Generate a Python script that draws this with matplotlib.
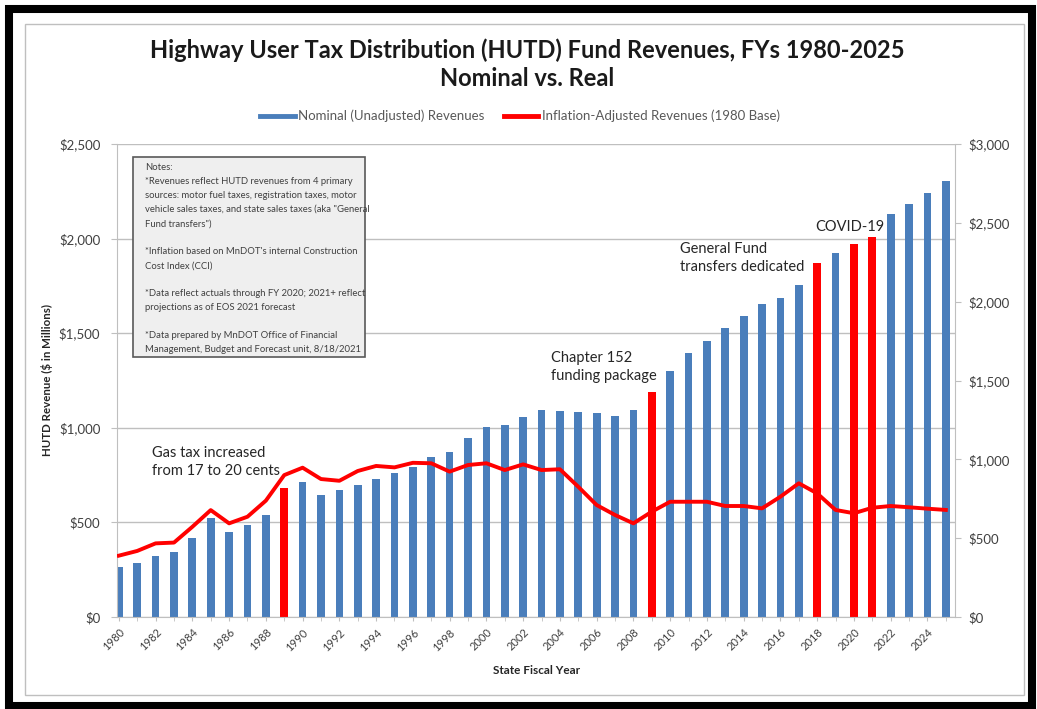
import matplotlib.pyplot as plt
from matplotlib.lines import Line2D
from matplotlib.patches import Rectangle
from matplotlib.ticker import FuncFormatter, MultipleLocator

plt.rcParams['font.family'] = ['Lato', 'DejaVu Sans']

# ---- data ----
years = list(range(1980, 2026))
nominal = [265, 287, 324, 342, 419, 525, 451, 486, 539, 680,
           715, 645, 669, 696, 728, 759, 794, 847, 874, 944,
           1006, 1015, 1055, 1092, 1089, 1082, 1078, 1061, 1092, 1191,
           1302, 1394, 1460, 1526, 1591, 1654, 1684, 1755, 1873, 1922,
           1971, 2010, 2128, 2183, 2243, 2306]
# inflation-adjusted series, read against the right-hand axis
real = [389, 419, 467, 472, 572, 678, 594, 636, 738, 900,
        947, 875, 864, 926, 958, 949, 978, 975, 922, 964,
        975, 932, 968, 932, 937, 826, 710, 647, 594, 668,
        731, 731, 731, 704, 704, 689, 763, 848, 784, 679,
        658, 693, 704, 696, 687, 679]
highlight_years = [1989, 2009, 2018, 2020, 2021]
tick_years = list(range(1980, 2026, 2))

notes = ("Notes:\n"
         "*Revenues reflect HUTD revenues from 4 primary\n"
         "sources: motor fuel taxes, registration taxes, motor\n"
         "vehicle sales taxes, and state sales taxes (aka \"General\n"
         "Fund transfers\")\n"
         "\n"
         "*Inflation based on MnDOT's internal Construction\n"
         "Cost Index (CCI)\n"
         "\n"
         "*Data reflect actuals through FY 2020; 2021+ reflect\n"
         "projections as of EOS 2021 forecast\n"
         "\n"
         "*Data prepared by MnDOT Office of Financial\n"
         "Management, Budget and Forecast unit, 8/18/2021")

BLUE = "#4a7ebb"
RED = "#ff0000"
GRID = "#bfbfbf"
TXT = "#404040"

W, H = 1037, 709
fig = plt.figure(figsize=(W / 100, H / 100), dpi=100)

# outer frames
fig.patches.append(Rectangle((25 / W, 1 - 695 / H), 999 / W, 671 / H, transform=fig.transFigure,
                             fill=False, edgecolor=GRID, lw=1))
fig.patches.append(Rectangle((9 / W, 1 - 706 / H), 1023 / W, 697 / H, transform=fig.transFigure,
                             fill=False, edgecolor="black", lw=5.8))

ax = fig.add_axes([117 / W, 1 - 617 / H, 838 / W, 473 / H])
colors = [RED if y in highlight_years else BLUE for y in years]
ax.bar(years, nominal, width=0.42, color=colors, zorder=2)
ax.set_xlim(1979.9, 2025.5)
ax.set_ylim(0, 2500)
ax.yaxis.set_major_locator(MultipleLocator(500))
ax.yaxis.set_major_formatter(FuncFormatter(lambda v, p: f"${v:,.0f}"))
ax.grid(axis="y", color=GRID, lw=1, zorder=0)
ax.set_xticks(tick_years)
ax.set_xticks(years, minor=True)
ax.set_xticklabels([str(y) for y in tick_years], rotation=45, ha="right",
                   rotation_mode="anchor", fontsize=8, color=TXT)
ax.tick_params(axis="x", which="both", length=3, color=GRID, pad=4)
ax.tick_params(axis="y", length=4, color=GRID, labelsize=9.5, labelcolor=TXT, pad=8)
for s in ["top", "right"]:
    ax.spines[s].set_visible(False)
for s in ["left", "bottom"]:
    ax.spines[s].set_color(GRID)
ax.set_ylabel("HUTD Revenue ($ in Millions)", fontsize=8.3, fontweight="bold", color="#262626")
ax.yaxis.set_label_coords(-0.076, 0.5)
ax.set_xlabel("State Fiscal Year", fontsize=8.5, fontweight="bold", color="#262626")
ax.xaxis.set_label_coords(0.501, -0.102)

ax2 = ax.twinx()
ax2.plot(years, real, color=RED, lw=2.8, solid_joinstyle="round", zorder=3)
ax2.set_ylim(0, 3000)
ax2.yaxis.set_major_locator(MultipleLocator(500))
ax2.yaxis.set_major_formatter(FuncFormatter(lambda v, p: f"${v:,.0f}"))
ax2.tick_params(axis="y", length=4, color=GRID, labelsize=9.5, labelcolor=TXT, pad=6)
for s in ["top", "left", "bottom"]:
    ax2.spines[s].set_visible(False)
ax2.spines["right"].set_color(GRID)

# notes box
ax2.add_patch(Rectangle((0.019, 0.55), 0.277, 0.4225, transform=ax.transAxes,
                        facecolor="#efefef", edgecolor="#595959", lw=1.2, zorder=4))
ax2.text(0.033, 0.96, notes, transform=ax.transAxes, fontsize=6.8, color="#404040",
         va="top", ha="left", linespacing=1.72, zorder=5)

# event annotations
ann = dict(transform=ax.transAxes, fontsize=10.5, color="#262626", va="top", ha="left",
           linespacing=1.35, zorder=5)
ax2.text(0.0418, 0.361, "Gas tax increased\nfrom 17 to 20 cents", **ann)
ax2.text(0.518, 0.563, "Chapter 152\nfunding package", **ann)
ax2.text(0.672, 0.792, "General Fund\ntransfers dedicated", **ann)
ax2.text(0.833, 0.839, "COVID-19", **ann)

# title and legend
fig.text(527 / W, 1 - 50 / H, "Highway User Tax Distribution (HUTD) Fund Revenues, FYs 1980-2025",
         ha="center", va="center", fontsize=17, fontweight="bold", color="#1a1a1a")
fig.text(527 / W, 1 - 78 / H, "Nominal vs. Real",
         ha="center", va="center", fontsize=17, fontweight="bold", color="#1a1a1a")
handles = [Line2D([], [], color=BLUE, lw=3.5), Line2D([], [], color=RED, lw=3.5)]
fig.legend(handles, ["Nominal (Unadjusted) Revenues", "Inflation-Adjusted Revenues (1980 Base)"],
           loc="center", bbox_to_anchor=(520 / W, 1 - 116 / H), ncol=2, frameon=False,
           fontsize=9.5, labelcolor="#595959", handlelength=2.6, handletextpad=0.25,
           columnspacing=1.5)

fig.savefig("out.png", dpi=100)
